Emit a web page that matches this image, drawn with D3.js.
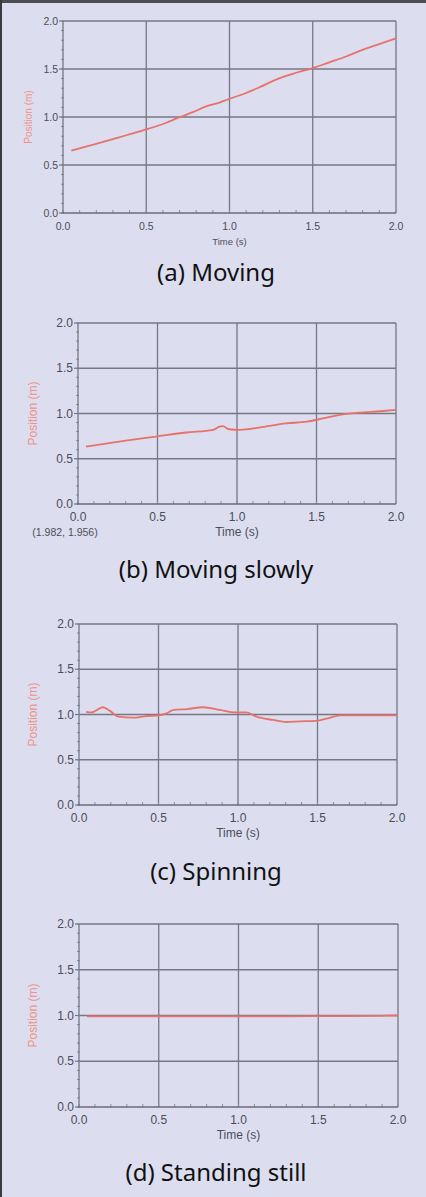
<!DOCTYPE html>
<html>
<head>
<meta charset="utf-8">
<script src="https://cdn.jsdelivr.net/npm/d3@7"></script>
<style>
  body { margin: 0; background: #dcdeef; }
  svg { display: block; }
</style>
</head>
<body>
<svg id="chart"></svg>
<script>
// data (time in s, position in m)
const movingT = [0.05, 0.22, 0.38, 0.50, 0.62, 0.69, 0.78, 0.86, 0.94, 1.00, 1.10, 1.18, 1.28, 1.38, 1.50, 1.60, 1.70, 1.80, 1.90, 2.00];
const movingY = [0.65, 0.73, 0.81, 0.87, 0.94, 0.99, 1.05, 1.11, 1.15, 1.19, 1.25, 1.31, 1.39, 1.45, 1.51, 1.57, 1.63, 1.70, 1.76, 1.82];

const slowT = [0.05, 0.30, 0.49, 0.68, 0.85, 0.89, 0.91, 0.95, 1.02, 1.14, 1.31, 1.44, 1.54, 1.63, 1.77, 1.90, 2.00];
const slowY = [0.635, 0.70, 0.745, 0.79, 0.82, 0.855, 0.86, 0.826, 0.82, 0.845, 0.89, 0.91, 0.945, 0.98, 1.01, 1.025, 1.04];

const spinT = [0.044, 0.08, 0.15, 0.195, 0.247, 0.34, 0.425, 0.50, 0.55, 0.596, 0.68, 0.78, 0.886, 0.97, 1.053, 1.116, 1.22, 1.305, 1.39, 1.49, 1.566, 1.64, 1.745, 2.00];
const spinY = [1.03, 1.024, 1.08, 1.04, 0.976, 0.965, 0.983, 0.99, 1.013, 1.05, 1.06, 1.08, 1.05, 1.024, 1.024, 0.976, 0.94, 0.917, 0.924, 0.93, 0.958, 0.99, 0.99, 0.99];

const stillT = [0.05, 0.5, 1.0, 1.5, 1.9, 2.0];
const stillY = [0.99, 0.99, 0.99, 0.993, 0.997, 1.0];

const ticks = [0, 0.5, 1.0, 1.5, 2.0];
const captions = ["(a) Moving", "(b) Moving slowly", "(c) Spinning", "(d) Standing still"];

const W = 426, H = 1197;
const svg = d3.select("#chart").attr("width", W).attr("height", H);

// frame
svg.append("rect").attr("width", W).attr("height", H).attr("fill", "#dcdeef");
svg.append("rect").attr("width", W).attr("height", 3).attr("fill", "#4d4d4f");
svg.append("rect").attr("width", 2).attr("height", H).attr("fill", "#3a3a40");

const panels = [
  {t: movingT, y: movingY, left: 63, right: 396, top: 21, bottom: 213, fs: 10.5, tfs: 9.5, lfs: 10, lx: 28, capY: 281},
  {t: slowT, y: slowY, left: 78, right: 396, top: 323, bottom: 504, fs: 12, tfs: 12, lfs: 12, lx: 33, capY: 578, note: "(1.982, 1.956)"},
  {t: spinT, y: spinY, left: 79, right: 397, top: 624, bottom: 805, fs: 12, tfs: 12, lfs: 12, lx: 33, capY: 880},
  {t: stillT, y: stillY, left: 79, right: 398, top: 924, bottom: 1107, fs: 12, tfs: 12, lfs: 12, lx: 33, capY: 1181}
];

const labelFont = "Liberation Sans, Arial, sans-serif";

panels.forEach(function(p, i) {
  const x = d3.scaleLinear().domain([0, 2]).range([p.left, p.right]);
  const y = d3.scaleLinear().domain([0, 2]).range([p.bottom, p.top]);
  const g = svg.append("g");

  // grid
  g.selectAll(".gx").data(ticks.slice(1)).enter().append("line")
    .attr("x1", d => x(d)).attr("x2", d => x(d))
    .attr("y1", p.top).attr("y2", p.bottom)
    .attr("stroke", "#767785").attr("stroke-width", 1.3);
  g.selectAll(".gy").data(ticks.slice(1)).enter().append("line")
    .attr("y1", d => y(d)).attr("y2", d => y(d))
    .attr("x1", p.left).attr("x2", p.right)
    .attr("stroke", "#767785").attr("stroke-width", 1.3);

  // minor ticks
  const minor = d3.range(0, 2.0001, 0.1);
  g.selectAll(".mx").data(minor).enter().append("line")
    .attr("x1", d => x(d)).attr("x2", d => x(d))
    .attr("y1", p.bottom - 3).attr("y2", p.bottom)
    .attr("stroke", "#8d8e9a").attr("stroke-width", 1);
  g.selectAll(".my").data(minor).enter().append("line")
    .attr("y1", d => y(d)).attr("y2", d => y(d))
    .attr("x1", p.left - 2).attr("x2", p.left + 1)
    .attr("stroke", "#8d8e9a").attr("stroke-width", 1);

  // axes lines
  g.append("line").attr("x1", p.left).attr("x2", p.left).attr("y1", p.top).attr("y2", p.bottom)
    .attr("stroke", "#767785").attr("stroke-width", 1.3);
  g.append("line").attr("x1", p.left - 1).attr("x2", p.right).attr("y1", p.bottom).attr("y2", p.bottom)
    .attr("stroke", "#6a6b7a").attr("stroke-width", 1.4);
  g.selectAll(".yt").data(ticks).enter().append("line")
    .attr("y1", d => y(d)).attr("y2", d => y(d))
    .attr("x1", p.left - 4).attr("x2", p.left)
    .attr("stroke", "#767785").attr("stroke-width", 1.2);

  // tick labels
  g.selectAll(".yl").data(ticks).enter().append("text")
    .attr("x", p.left - 5).attr("y", d => y(d))
    .attr("text-anchor", "end").attr("dominant-baseline", "central")
    .attr("font-family", labelFont)
    .attr("font-size", p.fs).attr("fill", "#4c4d57")
    .text(d => d.toFixed(1));
  g.selectAll(".xl").data(ticks).enter().append("text")
    .attr("x", d => x(d)).attr("y", p.bottom + 13)
    .attr("text-anchor", "middle").attr("dominant-baseline", "central")
    .attr("font-family", labelFont)
    .attr("font-size", p.fs).attr("fill", "#4c4d57")
    .text(d => d.toFixed(1));

  g.append("text")
    .attr("x", (p.left + p.right) / 2).attr("y", p.bottom + 28)
    .attr("text-anchor", "middle").attr("dominant-baseline", "central")
    .attr("font-family", labelFont)
    .attr("font-size", p.tfs).attr("fill", "#4c4d57")
    .text("Time (s)");

  if (p.note) {
    g.append("text")
      .attr("x", p.left - 13).attr("y", p.bottom + 28)
      .attr("text-anchor", "middle").attr("dominant-baseline", "central")
      .attr("font-family", labelFont)
      .attr("font-size", p.tfs - 1.5).attr("fill", "#4c4d57")
      .text(p.note);
  }

  g.append("text")
    .attr("transform", `translate(${p.lx},${(p.top + p.bottom) / 2}) rotate(-90)`)
    .attr("text-anchor", "middle").attr("dominant-baseline", "central")
    .attr("font-family", labelFont)
    .attr("font-size", p.lfs).attr("fill", "#f0928a")
    .text("Position (m)");

  // series
  const pts = p.t.map((t, k) => [t, p.y[k]]);
  g.append("path").datum(pts)
    .attr("fill", "none").attr("stroke", "#e8726b").attr("stroke-width", 1.8)
    .attr("stroke-linejoin", "round")
    .attr("d", d3.line().x(d => x(d[0])).y(d => y(d[1])).curve(d3.curveMonotoneX));

  // caption
  svg.append("text")
    .attr("x", 216).attr("y", p.capY)
    .attr("text-anchor", "middle")
    .attr("font-family", "Noto Sans, Open Sans, sans-serif")
    .attr("font-size", 24).attr("fill", "#111")
    .text(captions[i]);
});
</script>
</body>
</html>
